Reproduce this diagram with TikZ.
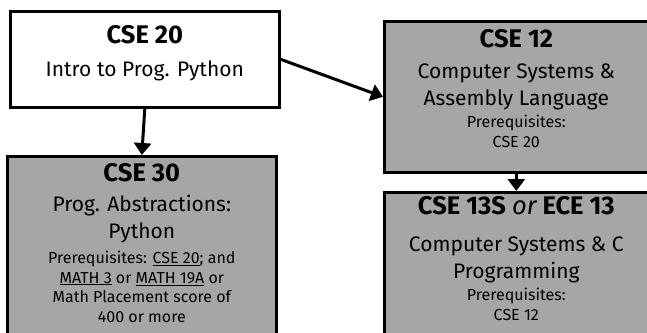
\documentclass[tikz,border=0pt]{standalone}
\usepackage{fontspec}
\setmainfont{Fira Sans}
\usetikzlibrary{arrows.meta}
\definecolor{boxgray}{RGB}{166,166,166}
\newcommand{\ctitle}{\fontsize{25.5}{30}\selectfont\bfseries}
\newcommand{\cbody}{\fontsize{21}{26.5}\selectfont}
\newcommand{\cprereq}{\fontsize{16}{19.5}\selectfont}

\tikzset{
    course/.style={draw=black, line width=2.6pt, fill=white, inner sep=0pt, anchor=north west},
    graycourse/.style={course, fill=boxgray},
    coursetitle/.style={font=\ctitle, anchor=base, inner sep=0pt},
    coursetext/.style={font=\cbody, align=center, inner sep=0pt, anchor=base},
    prereq/.style={font=\cprereq, align=center, inner sep=0pt, anchor=base},
    link/.style={line width=3pt, -{Triangle[length=12pt,width=17pt]}}
}

\begin{document}
\begin{tikzpicture}[x=1pt,y=-1pt]
    \clip (0,0) rectangle (647,332);

    % course boxes
    \node[course, minimum width=269pt, minimum height=96pt] (cse20) at (9,10) {};
    \node[graycourse, minimum width=264pt, minimum height=151pt] (cse12) at (383,20) {};
    \node[graycourse, minimum width=269pt, minimum height=200pt] (cse30) at (6,155) {};
    \node[graycourse, minimum width=264pt, minimum height=200pt] (cse13) at (383,191) {};

    % prerequisite arrows
    \draw[link] (cse20.south) -- (cse30.north);
    \draw[link] (cse20.east) -- (cse12.west);
    \draw[link] (cse12.south) -- (cse13.north);

    % CSE 20 (multi-line nodes sit on their last baseline)
    \node[coursetitle] (cse20-title) at (cse20.north |- 0,43) {CSE 20};
    \node[coursetext] (cse20-text) at (cse20.north |- 0,76) {Intro to Prog. Python};

    % CSE 12
    \node[coursetitle] (cse12-title) at (cse12.north |- 0,47) {CSE 12};
    \node[coursetext] (cse12-text) at (cse12.north |- 0,105) {Computer Systems \&\\Assembly Language};
    \node[prereq] (cse12-pre) at (cse12.north |- 0,147) {Prerequisites:\\CSE 20};

    % CSE 30
    \node[coursetitle] (cse30-title) at (cse30.north |- 0,181) {CSE 30};
    \node[coursetext] (cse30-text) at (cse30.north |- 0,238) {Prog. Abstractions:\\Python};
    \node[prereq] (cse30-pre) at (cse30.north |- 0,322)
        {Prerequisites: \underline{CSE 20}; and\\\underline{MATH 3} or \underline{MATH 19A} or\\Math Placement score of\\400 or more};

    % CSE 13S / ECE 13
    \node[coursetitle] (cse13-title) at (cse13.north |- 0,214) {CSE 13S {\mdseries\itshape or} ECE 13};
    \node[coursetext] (cse13-text) at (cse13.north |- 0,278) {Computer Systems \& C\\Programming};
    \node[prereq] (cse13-pre) at (cse13.north |- 0,320) {Prerequisites:\\CSE 12};
\end{tikzpicture}
\end{document}
